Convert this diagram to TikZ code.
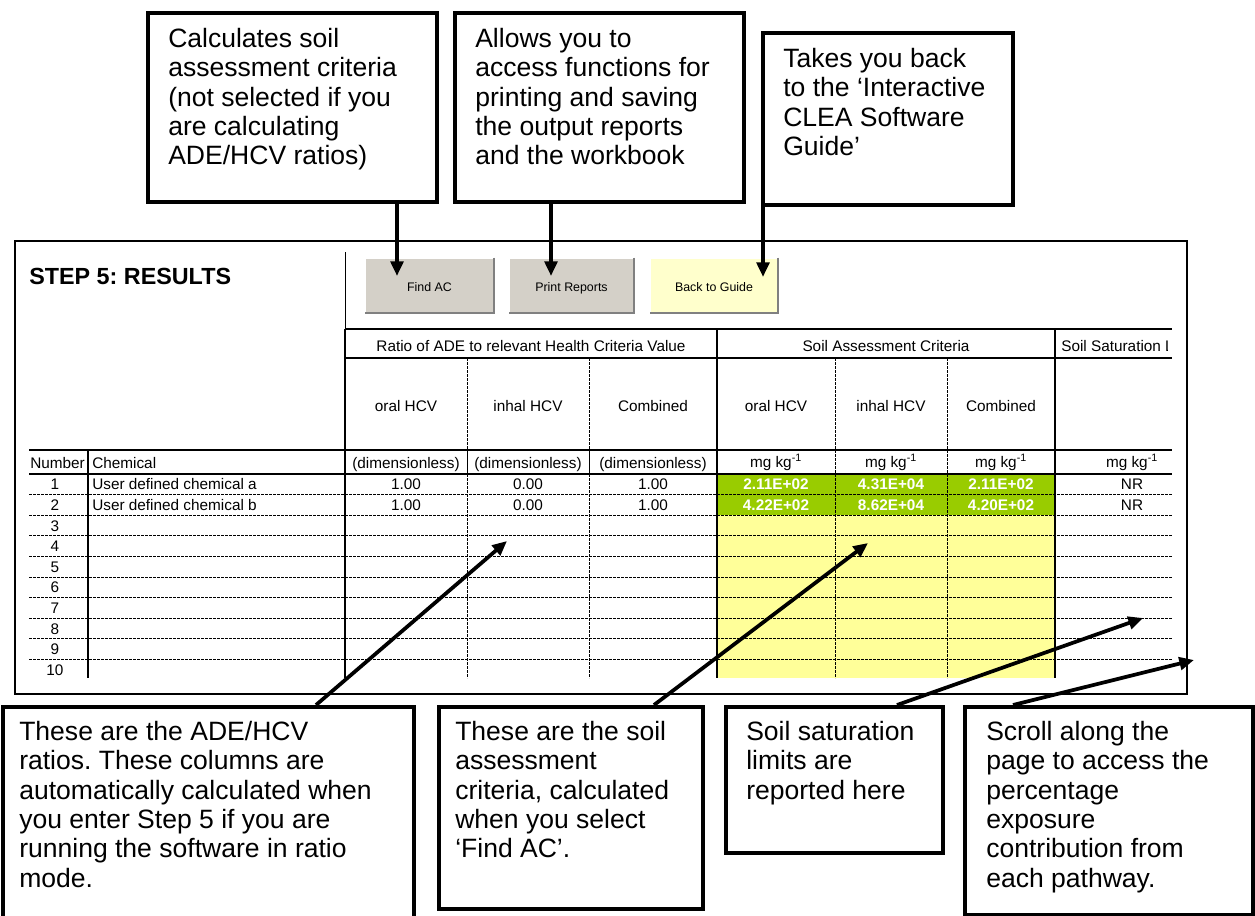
\documentclass[tikz,border=0pt]{standalone}
\usepackage{fontspec}
\setmainfont{Liberation Sans}
\usetikzlibrary{arrows.meta,fit,calc}
\frenchspacing

\definecolor{btnface}{HTML}{D4D0C8}
\definecolor{btnshade}{HTML}{808080}
\definecolor{guideface}{HTML}{FFFFCC}
\definecolor{resultgreen}{HTML}{99CC00}
\definecolor{inputyellow}{HTML}{FFFF99}

\begin{document}
\begin{tikzpicture}[x=0.75pt,y=-0.75pt,
  callout/.style={draw=black,line width=3pt,inner sep=0pt,fill=white},
  note/.style={anchor=north west,inner sep=0pt,align=left,font=\fontsize{19.9pt}{22pt}\selectfont},
  pointer/.style={line width=2.8pt,-{Triangle[length=11pt,width=9.5pt]}},
  button/.style={inner sep=0pt,font=\fontsize{9.3pt}{11pt}\selectfont},
  buttonlabel/.style={inner sep=0pt,text height=6.8pt,text depth=0pt,font=\fontsize{9.3pt}{11pt}\selectfont},
  heavy/.style={line width=1.5pt},
  light/.style={line width=0.75pt},
  dashrule/.style={line width=0.75pt,dash pattern=on 2.25pt off 0.75pt},
  cell/.style={inner sep=0pt,anchor=base,font=\fontsize{11.5pt}{13pt}\selectfont},
  lcell/.style={cell,anchor=base west},
  result/.style={cell,text=white,font=\bfseries\fontsize{11.5pt}{13pt}\selectfont},
]
\useasboundingbox (0,0) rectangle (1255,916);

% ---------- worksheet frame ----------
\draw[line width=1.1pt] (15,241) rectangle (1187,694);

\node[anchor=base west,inner sep=0pt,font=\bfseries\fontsize{17.5pt}{20pt}\selectfont] (title) at (29,284) {STEP 5: RESULTS};

% ---------- buttons ----------
\node[button,fill=btnface,fit={(365,258) (494,313)}] (findac) {};
\node[button,fill=btnface,fit={(509,258) (634,313)}] (print) {};
\node[button,fill=guideface,fit={(650,258) (778,313)}] (guide) {};
\foreach \b in {findac,print,guide}{
  \draw[white,line width=1.2pt] (\b.south west) -- (\b.north west) -- (\b.north east);
  \draw[btnshade,line width=1.5pt] (\b.north east) -- (\b.south east) -- (\b.south west);
}
\node[buttonlabel] (findaclabel) at ($(findac.center)+(0,1)$) {Find AC};
\node[buttonlabel] (printlabel) at ($(print.center)+(0,1)$) {Print Reports};
\node[buttonlabel] (guidelabel) at ($(guide.center)+(0,1)$) {Back to Guide};

% ---------- cell fills ----------
\fill[resultgreen] (717,474) rectangle (1055,515);
\fill[inputyellow] (717,515) rectangle (1055,678);

% ---------- grid ----------
\draw[light] (345,252) -- (345,329);
\foreach \k in {1,...,9}
  \draw[dashrule] (29,{474+20.6*\k}) -- (1172,{474+20.6*\k});
\foreach \x in {467,589}{
  \draw[dashrule] (\x,358) -- (\x,450);
  \draw[light] (\x,450) -- (\x,474);
  \draw[dashrule] (\x,474) -- (\x,678);
}
\foreach \x in {835,947}
  \draw[dashrule] (\x,358) -- (\x,678);
\draw[heavy] (345,329) -- (1172,329);
\draw[heavy] (345,358) -- (1172,358);
\draw[heavy] (29,450) -- (1172,450);
\draw[heavy] (29,474) -- (1172,474);
\draw[heavy] (88,450) -- (88,678);
\foreach \x in {345,717,1055}
  \draw[heavy] (\x,329) -- (\x,678);

% ---------- headings ----------
\node[cell] (hratio) at (531,351) {Ratio of ADE to relevant Health Criteria Value};
\node[cell] (hsac) at (886,351) {Soil Assessment Criteria};
\begin{scope}
  \clip (1056,330) rectangle (1167,357);
  \node[lcell] (hsat) at (1061,351) {Soil Saturation Limits};
\end{scope}
\node[cell] (r1) at (406,411) {oral HCV};
\node[cell] (r2) at (528,411) {inhal HCV};
\node[cell] (r3) at (653,411) {Combined};
\node[cell] (s1) at (776,411) {oral HCV};
\node[cell] (s2) at (891,411) {inhal HCV};
\node[cell] (s3) at (1001,411) {Combined};

\node[lcell] (hnum) at (30,468) {Number};
\node[lcell] (hchem) at (92,468) {Chemical};
\node[cell] (u1) at (406,468) {(dimensionless)};
\node[cell] (u2) at (528,468) {(dimensionless)};
\node[cell] (u3) at (653,468) {(dimensionless)};
\node[cell] (u4) at (776,467) {mg kg\textsuperscript{-1}};
\node[cell] (u5) at (891,467) {mg kg\textsuperscript{-1}};
\node[cell] (u6) at (1001,467) {mg kg\textsuperscript{-1}};
\node[cell] (u7) at (1132,467) {mg kg\textsuperscript{-1}};

% ---------- rows ----------
\foreach \i in {1,...,10}
  \node[cell] (n\i) at (55,{489.8+20.6*(\i-1)}) {\i};
\node[lcell] (chema) at (92,489.8) {User defined chemical a};
\node[lcell] (chemb) at (92,510.4) {User defined chemical b};

\node[cell] (a1) at (406,489.8) {1.00};
\node[cell] (a2) at (528,489.8) {0.00};
\node[cell] (a3) at (653,489.8) {1.00};
\node[result] (a4) at (776,489.8) {2.11E+02};
\node[result] (a5) at (891,489.8) {4.31E+04};
\node[result] (a6) at (1001,489.8) {2.11E+02};
\node[cell] (a7) at (1132,489.8) {NR};

\node[cell] (b1) at (406,510.4) {1.00};
\node[cell] (b2) at (528,510.4) {0.00};
\node[cell] (b3) at (653,510.4) {1.00};
\node[result] (b4) at (776,510.4) {4.22E+02};
\node[result] (b5) at (891,510.4) {8.62E+04};
\node[result] (b6) at (1001,510.4) {4.20E+02};
\node[cell] (b7) at (1132,510.4) {NR};

% ---------- callouts above ----------
\node[callout,fit={(148,13) (437,202)}] (acbox) {};
\node[note] (actext) at ($(acbox.north west)+(22,17)$) {Calculates soil\\assessment criteria\\(not selected if you\\are calculating\\ADE/HCV ratios)};

\node[callout,fit={(455,13) (744,202)}] (prbox) {};
\node[note] (prtext) at ($(prbox.north west)+(22,17)$) {Allows you to\\access functions for\\printing and saving\\the output reports\\and the workbook};

\node[callout,fit={(763,33) (1013,205)}] (gdbox) {};
\node[note] (gdtext) at ($(gdbox.north west)+(22,17)$) {Takes you back\\to the ‘Interactive\\CLEA Software\\Guide’};

\coordinate (hitfind) at (397,276);
\coordinate (hitprint) at (551,276);
\coordinate (hitguide) at (763,277);
\draw[pointer] (acbox.south -| hitfind) -- (hitfind);
\draw[pointer] (prbox.south -| hitprint) -- (hitprint);
\draw[pointer] (gdbox.south -| hitguide) -- (hitguide);

% ---------- callouts below ----------
\node[callout,fit={(3,707) (414,935)}] (rtbox) {};
\node[note] (rttext) at ($(rtbox.north west)+(18,16)$) {These are the ADE/HCV\\ratios. These columns are\\automatically calculated when\\you enter Step 5 if you are\\running the software in ratio\\mode.};

\node[callout,fit={(439,707) (703,909)}] (scbox) {};
\node[note] (sctext) at ($(scbox.north west)+(18,16)$) {These are the soil\\assessment\\criteria, calculated\\when you select\\‘Find AC’.};

\node[callout,fit={(726,707) (943,853)}] (stbox) {};
\node[note] (sttext) at ($(stbox.north west)+(22,16)$) {Soil saturation\\limits are\\reported here};

\node[callout,fit={(965,707) (1253,915)}] (pgbox) {};
\node[note] (pgtext) at ($(pgbox.north west)+(23,16)$) {Scroll along the\\page to access the\\percentage\\exposure\\contribution from\\each pathway.};

\coordinate (hitratio) at (507,541);
\coordinate (hitsac) at (868,543);
\coordinate (hitsat) at (1143,618);
\coordinate (hitscroll) at (1194,660);
\draw[pointer] ($(rtbox.north west)+(315,0)$) -- (hitratio);
\draw[pointer] ($(scbox.north west)+(217,0)$) -- (hitsac);
\draw[pointer] ($(stbox.north west)+(173,0)$) -- (hitsat);
\draw[pointer] ($(pgbox.north west)+(50,0)$) -- (hitscroll);
\end{tikzpicture}
\end{document}
